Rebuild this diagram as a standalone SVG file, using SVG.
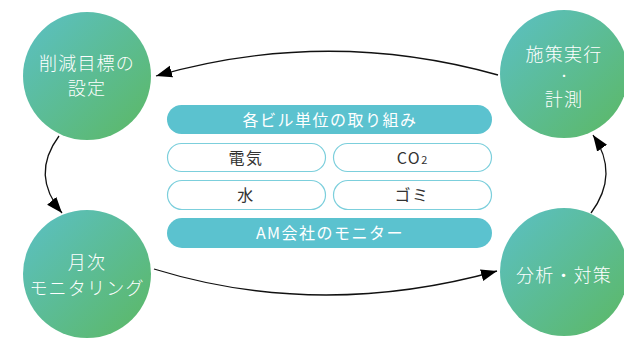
<svg xmlns="http://www.w3.org/2000/svg" width="624" height="338" viewBox="0 0 624 338">
<style>
.c{fill:url(#g)}
.ct{font-family:"Noto Sans CJK JP","Noto Sans",sans-serif;font-size:18px;fill:#ffffff;text-anchor:middle;letter-spacing:1.2px;font-weight:300}
.dot{font-size:12px;letter-spacing:0}
.bar{fill:#5bc2cf}
.box{fill:#ffffff;stroke:#7ccfdc;stroke-width:1.2}
.bt{font-family:"Noto Sans CJK JP","Noto Sans",sans-serif;font-size:16px;fill:#ffffff;text-anchor:middle;letter-spacing:1.5px}
.xt{font-family:"Noto Sans CJK JP","Noto Sans",sans-serif;font-size:16px;fill:#333333;text-anchor:middle;letter-spacing:1.5px}
.sub{font-size:11px;letter-spacing:0}
.ln{fill:none;stroke:#111111;stroke-width:1.3;marker-end:url(#ah)}
</style>
<defs>
<linearGradient id="g" x1="0" y1="0" x2="1" y2="1">
<stop offset="0" stop-color="#5bc0c6"/>
<stop offset="1" stop-color="#5cb863"/>
</linearGradient>
<marker id="ah" markerUnits="userSpaceOnUse" markerWidth="18" markerHeight="14" refX="16" refY="6" orient="auto">
<path d="M0,0 L16,6 L0,12 z" fill="#000000"/>
</marker>
</defs>
<g id="connectors">
<path class="ln" d="M498,75 Q327,27 156,76"/>
<path class="ln" d="M59,136 Q30,175 62,213"/>
<path class="ln" d="M154,269 Q320,320 497,271"/>
<path class="ln" d="M591,213 Q620,174 593,135"/>
</g>
<g id="node-target">
<circle class="c" cx="87" cy="76" r="64"/>
<text class="ct" x="87" y="70">削減目標の<tspan x="87" dy="25">設定</tspan></text>
</g>
<g id="node-execute">
<circle class="c" cx="564" cy="74" r="64"/>
<text class="ct" x="564" y="61">施策実行</text>
<text class="ct dot" x="564" y="81">・</text>
<text class="ct" x="564" y="105.5">計測</text>
</g>
<g id="node-monitor">
<circle class="c" cx="87" cy="274" r="64"/>
<text class="ct" x="87" y="269">月次<tspan x="87" dy="26">モニタリング</tspan></text>
</g>
<g id="node-analysis">
<circle class="c" cx="564" cy="272" r="64"/>
<text class="ct" x="564" y="282">分析・対策</text>
</g>
<g id="node-building">
<rect class="bar" x="167" y="105" width="325" height="29" rx="14.5"/>
<text class="bt" x="330" y="126">各ビル単位の取り組み</text>
</g>
<g id="node-electricity">
<rect class="box" x="167.5" y="143.5" width="158" height="28" rx="14"/>
<text class="xt" x="246" y="164">電気</text>
</g>
<g id="node-co2">
<rect class="box" x="333.5" y="143.5" width="158" height="28" rx="14"/>
<text class="xt" x="412" y="164">CO<tspan class="sub">2</tspan></text>
</g>
<g id="node-water">
<rect class="box" x="167.5" y="180.5" width="158" height="29" rx="14.5"/>
<text class="xt" x="246" y="201">水</text>
</g>
<g id="node-waste">
<rect class="box" x="333.5" y="180.5" width="158" height="29" rx="14.5"/>
<text class="xt" x="412" y="201">ゴミ</text>
</g>
<g id="node-am">
<rect class="bar" x="167" y="218" width="325" height="30" rx="15"/>
<text class="bt" x="330" y="239">AM会社のモニター</text>
</g>
</svg>
